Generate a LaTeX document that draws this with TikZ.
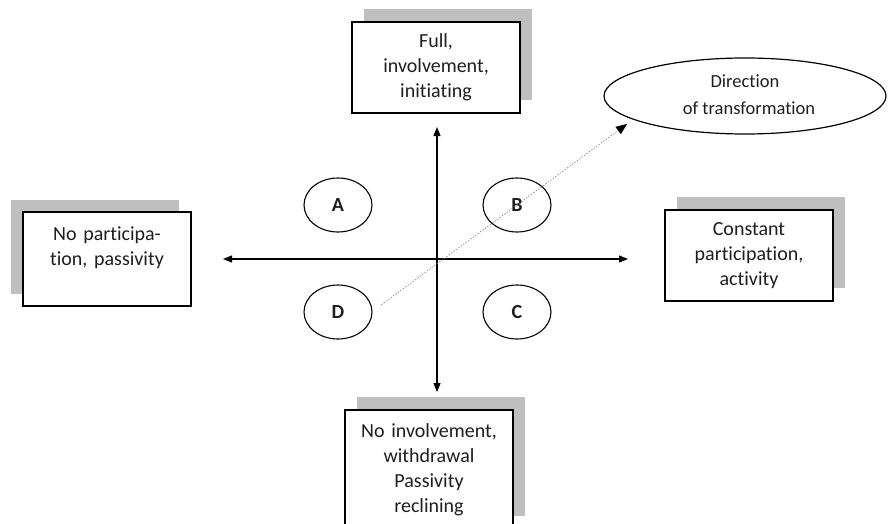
\documentclass[tikz,border=0pt]{standalone}
\usepackage{fontspec}
\setmainfont{Carlito}[Ligatures=NoCommon]
\usetikzlibrary{shapes.geometric,shadows,arrows.meta}
\definecolor{shadowgray}{RGB}{191,191,191}
\definecolor{txt}{RGB}{30,30,30}
\tikzset{
  quadbox/.style={draw=black, line width=1.3pt, fill=white, minimum width=168pt, text width=160pt, align=center, inner sep=0pt, text=txt, font=\fontsize{20}{25}\selectfont},
  shadowUR/.style={general shadow={shadow xshift=12pt, shadow yshift=13pt, fill=shadowgray}},
  shadowUL/.style={general shadow={shadow xshift=-12pt, shadow yshift=12pt, fill=shadowgray}},
  zone/.style={ellipse, draw=black, line width=1.1pt, minimum width=68pt, minimum height=54pt, inner sep=0pt, text=txt, font=\fontsize{20}{24}\selectfont\bfseries},
  axis/.style={line width=1.2pt, {Triangle[length=9pt,width=7pt]}-{Triangle[length=9pt,width=7pt]}},
  dirline/.style={gray, line width=0.6pt, dash pattern=on 1.5pt off 1.5pt, -{Triangle[length=11pt,width=9pt,fill=black,color=black]}}
}
\begin{document}
\begin{tikzpicture}[x=1pt,y=-1pt]
\useasboundingbox (0,0) rectangle (888,524);
\clip (0,0) rectangle (888,524);
% boxes
\node[quadbox, shadowUR, minimum height=91pt] (top) at (436,67.5) {Full,\\involvement,\\initiating};
\node[quadbox, shadowUL, minimum height=94pt] (left) at (107,259) {No participa-\\tion, passivity\\\mbox{}};
\node[quadbox, shadowUR, minimum height=91pt] (right) at (749,255.5) {Constant\\participation,\\activity};
\node[quadbox, shadowUR, minimum height=119pt] (bottom) at (429,469.5) {No involvement,\\withdrawal\\Passivity\\reclining};
% direction ellipse
\node[ellipse, draw=black, line width=1.2pt, minimum width=282pt, minimum height=76pt, inner sep=0pt, align=center, text=txt, font=\fontsize{18.5}{26}\selectfont] (dir) at (745,96) {\raisebox{-3pt}{\begin{tabular}{@{}c@{}}Direction\\[1pt]\hspace*{8pt}of transformation\end{tabular}}};
% zones
\node[zone] (A) at (338,205) {A};
\node[zone] (B) at (517,205) {B};
\node[zone] (D) at (338,312) {D};
\node[zone] (C) at (517,312) {C};
% axes
\coordinate (ltip) at (223,259);
\coordinate (rtip) at (628,259);
\coordinate (ttip) at (437,127);
\coordinate (btip) at (437,392);
\draw[axis] (ltip) -- (rtip);
\draw[axis] (ttip) -- (btip);
% direction of transformation
\coordinate (dstart) at (381,305);
\coordinate (dend) at (627,124);
\draw[dirline] (dstart) -- (dend);
\end{tikzpicture}
\end{document}
